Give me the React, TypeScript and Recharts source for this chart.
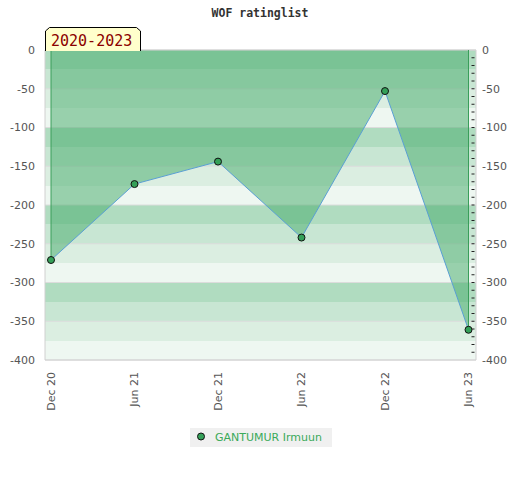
import React from 'react';
import { ComposedChart, Area, Line, XAxis, YAxis, CartesianGrid, ReferenceLine } from 'recharts';

const categories = ['Dec 20', 'Jun 21', 'Dec 21', 'Jun 22', 'Dec 22', 'Jun 23'];
const ratings = [-271, -173, -144, -242, -53, -361];
const rightTicks = [0, -10, -20, -30, -40, -50, -60, -70, -80, -90, -100, -110, -120, -130, -140, -150, -160, -170, -180, -190, -200, -210, -220, -230, -240, -250, -260, -270, -280, -290, -300, -310, -320, -330, -340, -350, -360, -370, -380, -390, -400];
const yTicks = [0, -50, -100, -150, -200, -250, -300, -350, -400];
const stripeValues = [0, -25, -50, -75, -100, -125, -150, -175, -200, -225, -250, -275, -300, -325, -350, -375];
const stripeColors = ['#b0dcc0', '#c8e6d3', '#dbeee1', '#eef7f1'];
const seriesName = 'GANTUMUR Irmuun';
const titleText = 'WOF ratinglist';
const periodText = '2020-2023';

const data = categories.map((c, i) => ({ month: c, rating: ratings[i] }));

const font = 'DejaVu Sans, Verdana, sans-serif';

const XTick = (props: any) => {
  const { x, y, payload } = props;
  return (
    <text
      x={x}
      y={y}
      transform={`rotate(-90 ${x} ${y})`}
      textAnchor="end"
      dy="0.35em"
      fontSize={11}
      fontFamily={font}
      fill="#555"
    >
      {payload.value}
    </text>
  );
};

const RightTick = (props: any) => {
  const { x, y, payload } = props;
  const v = payload.value;
  const isMajor = v % 50 === 0;
  const isEdge = v === 0 || v === -400;
  return (
    <g>
      {!isEdge && <line x1={x - 10.5} x2={x - 7.5} y1={y} y2={y} stroke="#222" strokeWidth={1} />}
      {isMajor && (
        <text x={x} y={y} dy="0.35em" textAnchor="start" fontSize={11} fontFamily={font} fill="#555">
          {v}
        </text>
      )}
    </g>
  );
};

export default function App() {
  return (
    <div style={{ position: 'absolute', left: 0, top: 0, width: 520, height: 480, background: '#fff' }}>
      <ComposedChart width={520} height={480} data={data} margin={{ top: 50, right: 4, bottom: 60, left: 5 }}>
        <CartesianGrid
          horizontalValues={stripeValues}
          horizontalFill={stripeColors}
          vertical={false}
          stroke="none"
          strokeOpacity={0}
          fillOpacity={1}
        />
        <CartesianGrid vertical={false} stroke="#dcdcdc" />
        <XAxis
          dataKey="month"
          scale="point"
          padding={{ left: 6, right: 7.5 }}
          tick={<XTick />}
          tickLine={false}
          tickSize={0}
          tickMargin={12}
          height={60}
          axisLine={{ stroke: '#d0d0d0' }}
          interval={0}
        />
        <YAxis
          domain={[-400, 0]}
          ticks={yTicks}
          width={40}
          tickLine={false}
          tickSize={0}
          tickMargin={10}
          axisLine={{ stroke: '#d0d0d0' }}
          tick={{ fontSize: 11, fontFamily: font, fill: '#555' }}
          interval={0}
        />
        <YAxis
          yAxisId="right"
          orientation="right"
          type="number"
          domain={[-400, 0]}
          allowDataOverflow
          ticks={rightTicks}
          width={40}
          tickLine={false}
          tickSize={0}
          tickMargin={6}
          axisLine={{ stroke: '#d0d0d0' }}
          tick={<RightTick />}
          interval={0}
          minTickGap={0}
        />
        <ReferenceLine y={0} stroke="#d0d0d0" />
        <Area
          type="linear"
          dataKey="rating"
          name={seriesName}
          baseValue={0}
          fill="#49ad6d"
          fillOpacity={0.52}
          stroke="#5a9fd4"
          strokeWidth={1}
          dot={{ r: 3.5, fill: '#34a058', stroke: '#111', strokeWidth: 1, fillOpacity: 1 }}
          activeDot={false}
          isAnimationActive={false}
        />
        <Line
          yAxisId="right"
          dataKey="rating"
          stroke="none"
          strokeOpacity={0}
          dot={false}
          activeDot={false}
          legendType="none"
          isAnimationActive={false}
        />
        <ReferenceLine
          segment={[{ x: categories[0], y: 0 }, { x: categories[0], y: ratings[0] }]}
          stroke="#3a9e5a"
          strokeWidth={1}
        />
        <ReferenceLine
          segment={[
            { x: categories[categories.length - 1], y: 0 },
            { x: categories[categories.length - 1], y: ratings[ratings.length - 1] },
          ]}
          stroke="#3a9e5a"
          strokeWidth={1}
        />
      </ComposedChart>
      <svg
        width={520}
        height={480}
        style={{ position: 'absolute', left: 0, top: 0, pointerEvents: 'none' }}
      >
        <text
          x={260}
          y={17}
          textAnchor="middle"
          fontFamily="DejaVu Sans Mono, monospace"
          fontWeight="bold"
          fontSize={11.5}
          fill="#333"
        >
          {titleText}
        </text>
        <path d="M45.5,51 L45.5,31 L49.5,27.5 L136.5,27.5 L140.5,31 L140.5,51" fill="#ffffcc" stroke="#000" strokeWidth={1} />
        <text x={51} y={45.5} fontFamily="DejaVu Sans Mono, monospace" fontSize={15} fill="#8b0000">
          {periodText}
        </text>
      </svg>
      <div
        style={{
          position: 'absolute',
          left: 190,
          top: 428,
          width: 142,
          height: 19,
          background: '#f0f0f0',
          display: 'flex',
          alignItems: 'center',
          fontFamily: font,
          fontSize: 11,
          color: '#3aaa5a',
        }}
      >
        <svg width={24} height={19} style={{ flex: 'none' }}>
          <circle cx={11} cy={8.5} r={3.5} fill="#34a058" stroke="#111" strokeWidth={1} />
        </svg>
        <span style={{ marginLeft: 1 }}>{seriesName}</span>
      </div>
    </div>
  );
}
